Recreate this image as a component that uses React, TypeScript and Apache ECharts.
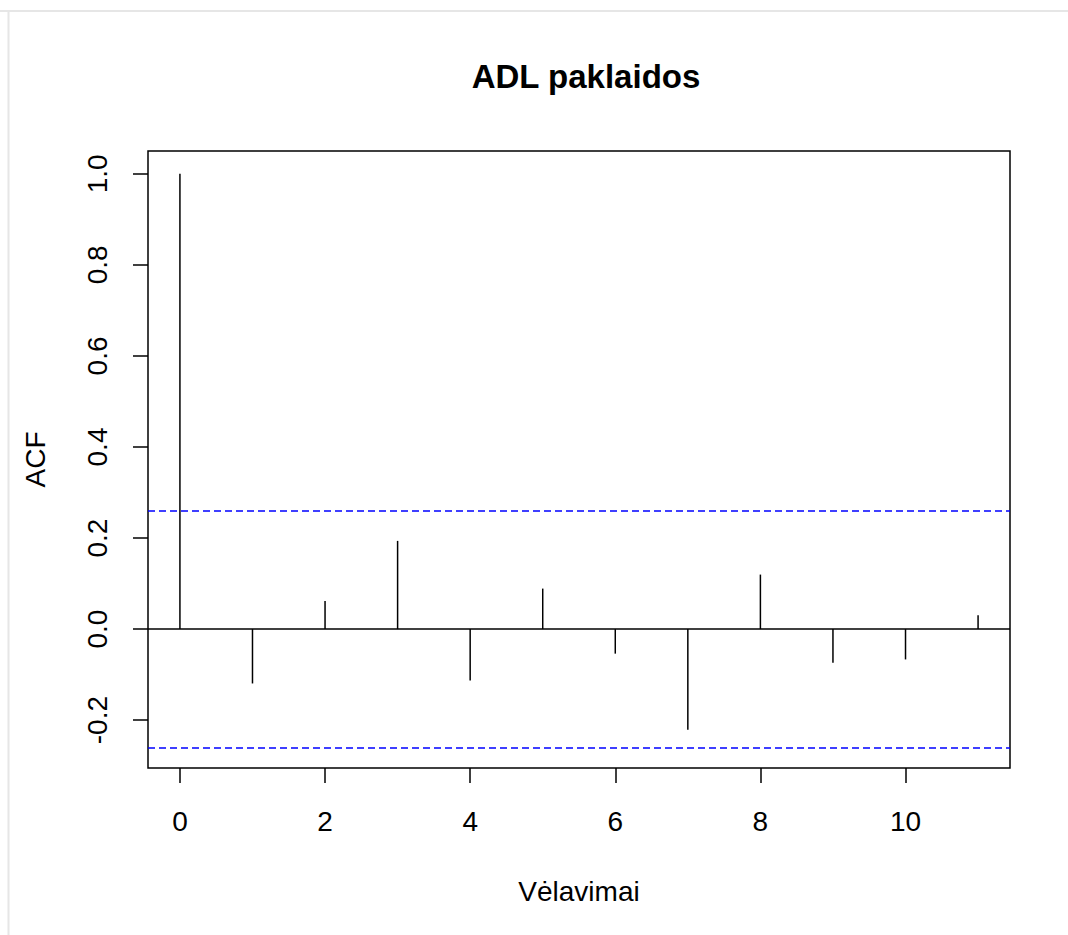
import React, { useEffect, useRef } from "react";
import * as echarts from "echarts";

const lags = [0, 1, 2, 3, 4, 5, 6, 7, 8, 9, 10, 11];
const acfValues = [1.0, -0.1195, 0.0616, 0.1937, -0.113, 0.0889, -0.054, -0.2214, 0.1197, -0.074, -0.0667, 0.0301];
const ciLimit = 0.255;
const xTicks = [0, 2, 4, 6, 8, 10];
const yTicks = [-0.2, 0, 0.2, 0.4, 0.6, 0.8, 1.0];
const titleText = "ADL paklaidos";
const xName = "Vėlavimai";
const yName = "ACF";

export default function App() {
  const ref = useRef<HTMLDivElement>(null);
  useEffect(() => {
    if (!ref.current) return;
    const chart = echarts.init(ref.current, undefined, { renderer: "svg" });
    const font = "'Liberation Sans', Arial, Helvetica, sans-serif";
    const xmin = -0.44;
    const xmax = 11.44;
    const yRange = Math.max(1, ...acfValues) - Math.min(-ciLimit, ...acfValues);
    const ymin = Math.min(-ciLimit, ...acfValues) - yRange * 0.04;
    const ymax = 1 + yRange * 0.04;
    chart.setOption({
      animation: false,
      backgroundColor: "#ffffff",
      title: {
        text: titleText,
        left: 581,
        textAlign: "center",
        top: 55,
        textStyle: { fontFamily: font, fontSize: 33, fontWeight: "bold", color: "#000" },
      },
      graphic: [
        { type: "line", shape: { x1: 0, y1: 11, x2: 1068, y2: 11 }, style: { stroke: "#e6e6e6", lineWidth: 2 } },
        { type: "line", shape: { x1: 8.5, y1: 10, x2: 8.5, y2: 935 }, style: { stroke: "#e6e6e6", lineWidth: 2 } },
      ],
      grid: {
        left: 148,
        top: 151,
        right: 58,
        bottom: 167,
        show: true,
        borderColor: "#000",
        borderWidth: 1.5,
        backgroundColor: "transparent",
        containLabel: false,
      },
      xAxis: {
        type: "value",
        min: xmin,
        max: xmax,
        name: xName,
        nameLocation: "middle",
        nameGap: 109,
        nameTextStyle: { fontFamily: font, fontSize: 28, color: "#000" },
        axisLine: { show: false, onZero: false },
        splitLine: { show: false },
        axisTick: { show: true, length: 15, inside: false, customValues: xTicks, lineStyle: { color: "#000", width: 1.5 } },
        axisLabel: {
          customValues: xTicks,
          margin: 39,
          fontFamily: font,
          fontSize: 28,
          color: "#000",
          formatter: (v: number) => String(v),
        },
      },
      yAxis: {
        type: "value",
        min: ymin,
        max: ymax,
        name: yName,
        nameLocation: "middle",
        nameRotate: 90,
        nameGap: 99,
        nameTextStyle: { fontFamily: font, fontSize: 28, color: "#000" },
        axisLine: { show: false, onZero: false },
        splitLine: { show: false },
        axisTick: { show: true, length: 15, inside: false, customValues: yTicks, lineStyle: { color: "#000", width: 1.5 } },
        axisLabel: {
          customValues: yTicks,
          rotate: 90,
          margin: 37,
          fontFamily: font,
          fontSize: 28,
          color: "#000",
          formatter: (v: number) => v.toFixed(1),
        },
      },
      series: [
        {
          type: "bar",
          data: lags.map((l, i) => [l, acfValues[i]]),
          barWidth: 1.5,
          itemStyle: { color: "#000" },
          silent: true,
          markLine: {
            silent: true,
            symbol: "none",
            label: { show: false },
            data: [
              { yAxis: 0, lineStyle: { color: "#000", type: "solid", width: 1.5 } },
              { yAxis: ciLimit, lineStyle: { color: "#0000ff", type: [7, 4], width: 1.5 } },
              { yAxis: -ciLimit, lineStyle: { color: "#0000ff", type: [7, 4], width: 1.5 } },
            ],
          },
        },
      ],
    });
    return () => chart.dispose();
  }, []);
  return <div ref={ref} style={{ position: "absolute", left: 0, top: 0, width: 1068, height: 935 }} />;
}
